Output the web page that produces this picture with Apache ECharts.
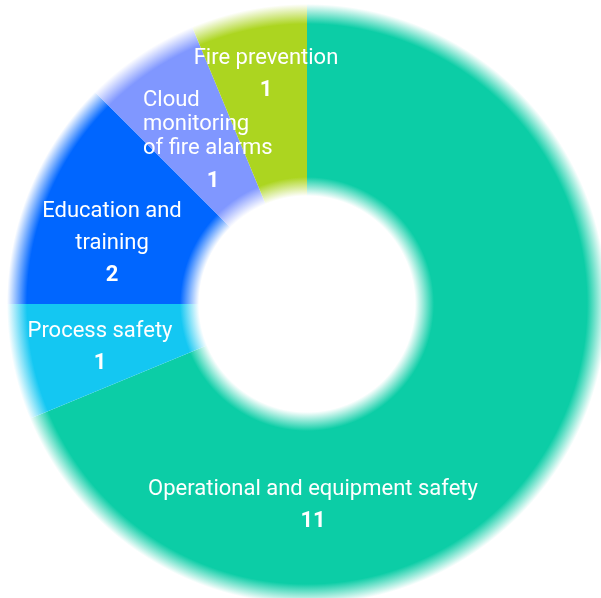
<!DOCTYPE html>
<html>
<head>
<meta charset="utf-8">
<script src="https://cdn.jsdelivr.net/npm/echarts@6/dist/echarts.min.js"></script>
<style>
  html, body { margin: 0; padding: 0; background: #fff; }
  #chart { width: 601px; height: 598px; }
</style>
</head>
<body>
<div id="chart"></div>
<script>
  // data
  const categories = [
    'Operational and equipment safety',
    'Process safety',
    'Education and training',
    'Cloud monitoring of fire alarms',
    'Fire prevention'
  ];
  const values = [11, 1, 2, 1, 1];
  // how each name is broken into lines
  const nameLines = [
    ['Operational and equipment safety'],
    ['Process safety'],
    ['Education and', 'training'],
    ['Cloud', 'monitoring', 'of fire alarms'],
    ['Fire prevention']
  ];

  const palette = ['#0ccda6', '#14c7f2', '#0066ff', '#8097ff', '#acd520'];
  const cx = 307, cy = 304, R = 300;
  // label anchors (block centres)
  const labelPos = [[313, 505], [100, 347], [112, 243], [213, 145], [266, 74]];

  function fadeRing(color) {
    return {
      type: 'radial', global: true, x: cx, y: cy, r: R,
      colorStops: [
        { offset: 0, color: '#ffffff' },
        { offset: 108 / R, color: '#ffffff' },
        { offset: 127 / R, color: color },
        { offset: 280 / R, color: color },
        { offset: 1, color: '#ffffff' }
      ]
    };
  }

  const myChart = echarts.init(document.getElementById('chart'));
  const font = 'Roboto';
  const fs = 22;
  const option = {
    backgroundColor: '#ffffff',
    animation: false,
    series: [{
      type: 'pie',
      center: [cx, cy],
      radius: [100, 304],
      startAngle: 90,
      clockwise: true,
      avoidLabelOverlap: false,
      itemStyle: { borderWidth: 0 },
      emphasis: { disabled: true },
      label: {
        show: true,
        position: 'inside',
        color: '#fff',
        fontFamily: font,
        fontSize: fs,
        align: 'center',
        formatter: function (p) {
          const lines = nameLines[p.dataIndex];
          const multi = lines.length > 2;
          const tag = multi ? 'c' : 't';
          return lines.map(l => '{' + tag + '|' + l + '}').join('\n') +
            '\n{' + (multi ? 'm' : 'n') + '|' + p.value + '}';
        },
        rich: {
          t: { color: '#fff', fontFamily: font, fontSize: fs, lineHeight: 32 },
          c: { color: '#fff', fontFamily: font, fontSize: fs, lineHeight: 24, align: 'left' },
          n: { color: '#fff', fontFamily: font, fontSize: fs, fontWeight: 'bold', lineHeight: 32, align: 'center' },
          m: { color: '#fff', fontFamily: font, fontSize: fs, fontWeight: 'bold', lineHeight: 42, align: 'center' }
        }
      },
      labelLine: { show: false },
      labelLayout: function (p) {
        const pos = labelPos[p.dataIndex];
        return { x: pos[0], y: pos[1], align: 'center', verticalAlign: 'middle' };
      },
      data: categories.map(function (name, i) {
        const item = {
          name: name,
          value: values[i],
          itemStyle: { color: fadeRing(palette[i]) }
        };
        if (i === 3) item.label = { width: 140 };
        return item;
      })
    }]
  };
  myChart.setOption(option);
</script>
</body>
</html>
